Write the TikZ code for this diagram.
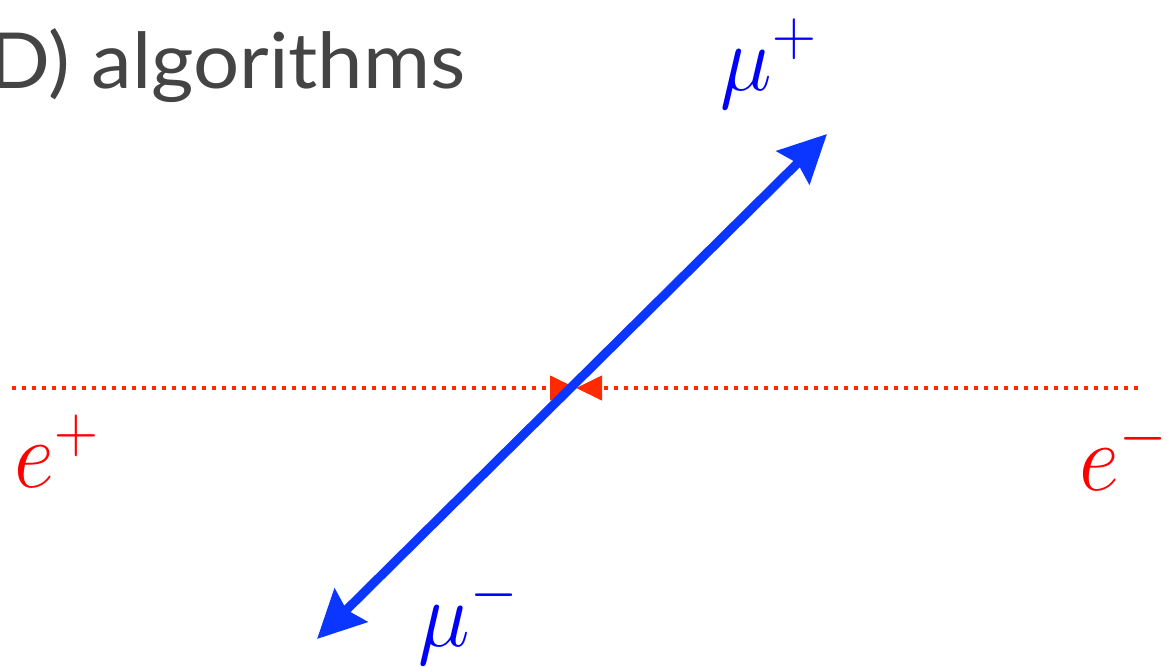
\documentclass[tikz,border=0pt]{standalone}
\usepackage{fontspec}
\setsansfont{Lato}
\usetikzlibrary{arrows.meta}
\definecolor{titlegray}{HTML}{444444}
\definecolor{mublue}{HTML}{0A36FF}
\definecolor{mutext}{HTML}{0000FF}
\definecolor{edot}{HTML}{FF2A00}
\definecolor{etext}{HTML}{FF0000}
\tikzset{
  mulabel/.style={inner sep=0pt, text=mutext, font=\fontsize{24}{28}\selectfont, xscale=2.0, yscale=2.15, transform shape},
  elabel/.style={inner sep=0pt, text=etext, font=\fontsize{24}{28}\selectfont, xscale=2.0, yscale=2.2, transform shape},
  beam/.style={edot, line width=0.085cm, dash pattern=on 0.09cm off 0.11cm,
    -{Triangle[length=0.52cm, width=0.48cm]}},
  muon/.style={mublue, line width=0.18cm,
    {Stealth[length=0.95cm, width=0.92cm, inset=0.12cm]}-{Stealth[length=0.95cm, width=0.92cm, inset=0.12cm]}},
}
\begin{document}
\begin{tikzpicture}[x=0.02cm, y=-0.02cm]
\useasboundingbox (0,0) rectangle (1173,666);
\node[anchor=base east, inner sep=0pt, text=titlegray, xscale=1.055, transform shape,
  font=\sffamily\fontsize{44}{50}\selectfont] (title) at (466,88) {D) algorithms};
\coordinate (epstart) at (12,388);
\coordinate (emstart) at (1138,388);
\coordinate (vertex) at (576,388);
\coordinate (mutop) at (827,134);
\coordinate (mubot) at (317,639);
\draw[beam] (epstart) -- (vertex);
\draw[beam] (emstart) -- (vertex);
\draw[muon] (mubot) -- (mutop);
\node[mulabel, anchor=base west] (mup) at (720,90) {$\mu^+$};
\node[mulabel, anchor=base west] (mum) at (418,646) {$\mu^-$};
\node[elabel, anchor=base west] (ep) at (14,487) {$e^+$};
\node[elabel, anchor=base west] (em) at (1079,490) {$e^-$};
\end{tikzpicture}
\end{document}
